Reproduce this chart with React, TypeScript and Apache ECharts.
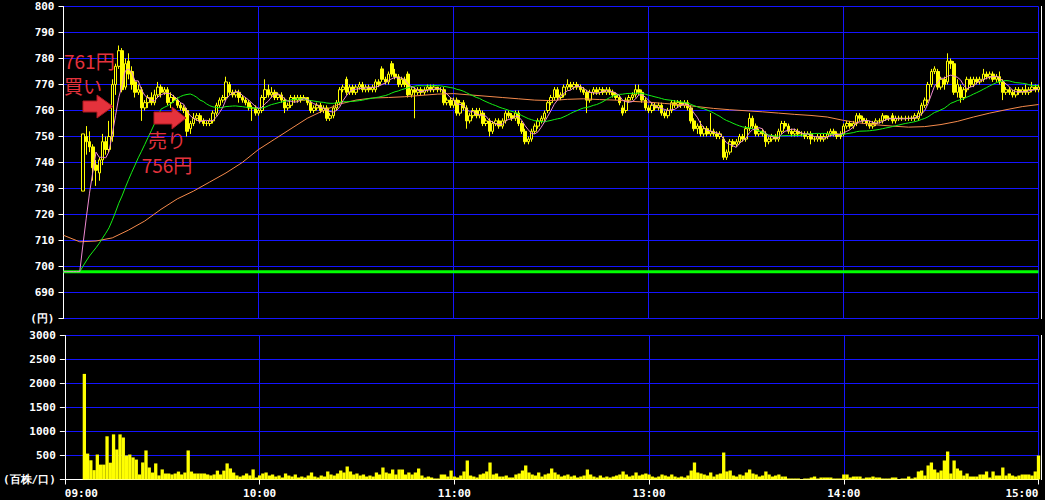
import React, { useEffect, useRef } from 'react';
import * as echarts from 'echarts';

// ---------- data ----------
const PREV_CLOSE = 698;
const tickMinutes = [0, 60, 120, 180, 240, 300];
const timeLabels = ['09:00', '10:00', '11:00', '13:00', '14:00', '15:00'];

// 1-minute candles [open, close, low, high]; index = minutes after 09:00 (lunch break removed)
const candles: (number[] | null)[] = [
  /*0*/ null, null, null, null, null, null, [729, 751, 729, 751], [750, 748, 743, 754], [748, 746, 744, 752], [746, 738, 733, 747],
  /*10*/ [739, 737, 731, 741], [736, 741, 733, 742], [741, 748, 739, 751], [748, 745, 743, 750], [745, 750, 744, 756], [750, 770, 748, 772], [770, 777, 766, 778], [777, 783, 776, 785], [783, 768, 767, 784], [769, 778, 768, 780],
  /*20*/ [779, 774, 772, 782], [775, 770, 768, 777], [771, 767, 765, 772], [767, 768, 766, 770], [768, 761, 756, 769], [761, 763, 760, 764], [763, 765, 761, 766], [765, 763, 762, 767], [763, 766, 762, 768], [766, 769, 765, 771],
  /*30*/ [769, 767, 765, 770], [767, 768, 766, 769], [768, 763, 762, 769], [763, 765, 761, 767], [765, 764, 763, 766], [764, 762, 761, 765], [762, 761, 760, 763], [761, 760, 759, 762], [760, 752, 750, 761], [753, 755, 751, 756],
  /*40*/ [755, 757, 754, 759], [757, 758, 756, 759], [758, 756, 755, 759], [756, 755, 754, 757], [755, 755, 754, 756], [755, 756, 754, 757], [756, 759, 755, 760], [759, 762, 758, 763], [762, 764, 761, 765], [764, 765, 763, 766],
  /*50*/ [765, 771, 764, 773], [770, 767, 766, 771], [767, 766, 765, 768], [766, 767, 765, 768], [767, 765, 763, 768], [765, 764, 763, 766], [764, 763, 762, 765], [763, 761, 760, 764], [761, 761, 756, 762], [761, 759, 758, 762],
  /*60*/ [759, 760, 758, 761], [760, 765, 759, 766], [765, 768, 764, 772], [768, 766, 765, 770], [766, 767, 765, 769], [767, 765, 764, 768], [765, 766, 764, 767], [766, 764, 763, 767], [764, 761, 759, 765], [761, 762, 760, 763],
  /*70*/ [762, 765, 761, 766], [765, 764, 763, 766], [764, 765, 763, 766], [765, 764, 763, 766], [764, 765, 764, 766], [765, 763, 762, 765], [763, 760, 759, 764], [760, 761, 759, 762], [761, 762, 760, 763], [762, 760, 759, 763],
  /*80*/ [760, 761, 759, 762], [761, 757, 756, 762], [757, 758, 756, 759], [758, 761, 757, 762], [761, 763, 760, 764], [763, 768, 762, 769], [768, 769, 767, 770], [772, 767, 766, 773], [767, 769, 766, 770], [769, 767, 766, 770],
  /*90*/ [767, 769, 766, 770], [769, 770, 768, 771], [770, 768, 767, 771], [768, 769, 767, 770], [769, 768, 767, 770], [768, 769, 767, 770], [768, 771, 767, 772], [771, 770, 769, 772], [776, 772, 771, 777], [772, 771, 770, 773],
  /*100*/ [771, 774, 770, 775], [778, 774, 773, 779], [774, 773, 772, 776], [773, 770, 769, 774], [770, 772, 769, 773], [772, 770, 769, 773], [774, 766, 765, 775], [766, 768, 765, 769], [768, 767, 757, 769], [767, 768, 766, 769],
  /*110*/ [768, 767, 766, 769], [767, 768, 766, 769], [768, 769, 767, 770], [769, 768, 767, 770], [768, 769, 767, 770], [769, 768, 767, 769], [768, 768, 767, 769], [768, 763, 762, 769], [763, 764, 762, 765], [764, 762, 761, 765],
  /*120*/ [762, 764, 761, 765], [764, 759, 758, 765], [759, 763, 758, 764], [763, 761, 760, 764], [761, 756, 753, 762], [756, 758, 755, 759], [758, 760, 757, 761], [760, 758, 757, 761], [758, 760, 757, 761], [759, 755, 754, 760],
  /*130*/ [755, 756, 754, 757], [756, 752, 750, 757], [752, 755, 751, 756], [755, 756, 754, 757], [756, 754, 753, 757], [754, 756, 753, 757], [756, 759, 755, 760], [759, 758, 757, 760], [758, 757, 756, 759], [757, 759, 756, 760],
  /*140*/ [759, 755, 754, 760], [755, 752, 751, 756], [752, 748, 747, 753], [748, 749, 747, 750], [749, 752, 748, 753], [752, 754, 751, 755], [754, 756, 753, 757], [756, 757, 755, 758], [757, 759, 756, 760], [760, 763, 759, 764],
  /*150*/ [763, 765, 762, 766], [765, 768, 764, 769], [768, 765, 764, 769], [765, 766, 764, 767], [766, 769, 765, 770], [769, 770, 768, 772], [770, 769, 768, 771], [769, 770, 768, 771], [770, 769, 768, 771], [769, 768, 767, 770],
  /*160*/ [768, 767, 766, 769], [767, 764, 759, 768], [764, 767, 763, 768], [767, 768, 766, 769], [768, 767, 766, 769], [767, 768, 766, 769], [768, 767, 766, 769], [767, 768, 766, 769], [768, 767, 766, 769], [767, 766, 765, 768],
  /*170*/ [766, 765, 764, 767], [765, 763, 762, 766], [761, 759, 758, 762], [760, 764, 759, 765], [764, 765, 763, 766], [765, 766, 764, 767], [766, 768, 765, 770], [768, 767, 766, 770], [767, 764, 763, 768], [764, 761, 760, 765],
  /*180*/ [761, 760, 759, 762], [760, 762, 759, 763], [762, 761, 760, 763], [761, 762, 760, 763], [762, 759, 758, 763], [759, 758, 757, 760], [758, 760, 757, 761], [760, 763, 759, 764], [763, 762, 761, 764], [762, 763, 761, 764],
  /*190*/ [763, 762, 761, 764], [762, 763, 761, 764], [763, 761, 760, 764], [761, 756, 755, 762], [756, 753, 752, 757], [753, 754, 751, 755], [754, 751, 750, 756], [751, 753, 750, 754], [753, 751, 750, 754], [751, 752, 750, 759],
  /*200*/ [752, 751, 750, 753], [751, 750, 749, 752], [750, 751, 749, 752], [749, 742, 741, 750], [742, 744, 741, 745], [744, 748, 743, 749], [748, 747, 746, 749], [747, 748, 746, 749], [748, 750, 747, 751], [750, 749, 748, 751],
  /*210*/ [749, 753, 748, 754], [753, 757, 752, 759], [757, 754, 753, 758], [754, 751, 750, 755], [751, 752, 750, 753], [752, 751, 750, 753], [751, 748, 746, 752], [748, 749, 747, 750], [749, 750, 748, 751], [750, 749, 748, 751],
  /*220*/ [749, 752, 748, 753], [752, 755, 751, 756], [755, 754, 753, 756], [754, 752, 751, 755], [752, 751, 750, 753], [751, 752, 750, 753], [752, 751, 750, 753], [751, 751, 750, 752], [751, 750, 749, 752], [750, 751, 749, 752],
  /*230*/ [751, 749, 747, 752], [749, 749, 748, 750], [749, 750, 748, 751], [750, 749, 748, 751], [749, 750, 748, 751], [750, 751, 749, 752], [751, 752, 750, 753], [752, 751, 750, 753], [751, 750, 749, 752], [751, 750, 749, 752],
  /*240*/ [751, 754, 750, 755], [754, 755, 753, 756], [755, 754, 753, 756], [754, 755, 753, 756], [755, 758, 754, 759], [758, 757, 756, 759], [757, 756, 755, 758], [756, 755, 754, 757], [755, 754, 753, 756], [754, 755, 753, 756],
  /*250*/ [755, 756, 754, 757], [756, 756, 755, 757], [756, 758, 755, 759], [758, 757, 756, 758], [757, 757, 756, 758], [758, 756, 755, 759], [756, 757, 755, 758], [757, 757, 756, 758], [757, 757, 756, 758], [757, 757, 756, 758],
  /*260*/ [757, 757, 756, 758], [757, 757, 756, 758], [757, 758, 756, 759], [757, 759, 756, 760], [759, 762, 758, 763], [762, 764, 761, 765], [764, 770, 763, 771], [770, 775, 769, 776], [775, 776, 774, 777], [775, 769, 768, 776],
  /*270*/ [769, 772, 768, 773], [772, 770, 768, 773], [771, 779, 770, 782], [779, 778, 776, 780], [778, 767, 766, 779], [767, 770, 765, 772], [769, 765, 763, 770], [765, 768, 764, 769], [768, 772, 767, 773], [772, 770, 769, 773],
  /*280*/ [770, 772, 769, 773], [772, 771, 770, 773], [771, 772, 770, 773], [772, 774, 771, 776], [774, 773, 772, 775], [773, 774, 772, 775], [774, 772, 771, 775], [772, 773, 771, 774], [773, 771, 770, 775], [771, 767, 764, 772],
  /*290*/ [767, 768, 766, 769], [768, 767, 766, 769], [767, 766, 765, 768], [766, 768, 765, 769], [768, 767, 766, 769], [767, 768, 766, 769], [768, 767, 766, 770], [767, 768, 766, 769], [768, 769, 767, 771], [769, 768, 767, 770],
  /*300*/ [768, 769, 767, 770],
];

// volume (百株) per minute, same indexing
const volumes: number[] = [
  /*0*/ 0, 0, 0, 0, 0, 0, 2200, 540, 400, 195,
  /*10*/ 520, 310, 310, 900, 350, 940, 625, 940, 875, 500,
  /*20*/ 520, 460, 415, 105, 355, 605, 250, 145, 335, 85,
  /*30*/ 210, 125, 125, 105, 125, 165, 105, 145, 605, 165,
  /*40*/ 125, 125, 125, 125, 105, 85, 105, 185, 105, 185,
  /*50*/ 335, 230, 145, 85, 60, 85, 125, 85, 210, 40,
  /*60*/ 85, 125, 146, 83, 104, 62, 83, 42, 125, 83,
  /*70*/ 62, 104, 42, 62, 42, 83, 146, 62, 42, 83,
  /*80*/ 62, 167, 104, 83, 125, 187, 146, 271, 167, 104,
  /*90*/ 125, 83, 104, 62, 83, 62, 146, 104, 250, 146,
  /*100*/ 125, 208, 104, 208, 208, 104, 146, 104, 146, 229,
  /*110*/ 83, 42, 62, 42, 21, 21, 104, 104, 62, 187,
  /*120*/ 62, 42, 83, 167, 396, 83, 62, 42, 104, 125,
  /*130*/ 167, 354, 104, 125, 62, 62, 83, 42, 42, 104,
  /*140*/ 125, 187, 292, 146, 104, 83, 146, 62, 104, 125,
  /*150*/ 229, 146, 104, 62, 83, 104, 62, 83, 42, 62,
  /*160*/ 83, 208, 104, 62, 42, 83, 42, 62, 42, 62,
  /*170*/ 83, 104, 167, 104, 62, 83, 146, 83, 104, 125,
  /*180*/ 104, 62, 42, 62, 104, 83, 62, 104, 62, 42,
  /*190*/ 62, 42, 83, 187, 354, 146, 125, 104, 83, 146,
  /*200*/ 62, 104, 125, 562, 167, 187, 83, 62, 104, 83,
  /*210*/ 146, 208, 125, 104, 62, 83, 167, 104, 62, 83,
  /*220*/ 104, 62, 62, 21, 21, 21, 21, 10, 21, 21,
  /*230*/ 42, 62, 21, 42, 42, 42, 42, 21, 21, 21,
  /*240*/ 104, 104, 42, 62, 62, 62, 21, 42, 42, 62,
  /*250*/ 42, 42, 21, 21, 21, 42, 42, 10, 21, 21,
  /*260*/ 62, 21, 42, 167, 187, 83, 292, 354, 208, 146,
  /*270*/ 187, 396, 583, 125, 396, 229, 187, 83, 125, 62,
  /*280*/ 62, 62, 104, 104, 167, 42, 167, 83, 83, 250,
  /*290*/ 83, 125, 83, 62, 83, 104, 104, 104, 83, 167,
  /*300*/ 500,
];

// long moving average (orange) read every 5 minutes
const MA_LONG_STEP = 5;
const maLong: number[] = [
  712, 709.5, 709.8, 711, 714, 717.5, 722, 726, 729, 732.5,
  736, 740, 745, 749, 753, 757, 760, 762.5, 764, 764.8,
  765, 765.3, 765.8, 766.3, 766.5, 766, 765.5, 765, 764.5, 764,
  763.8, 764.3, 764.5, 764.2, 764, 763.5, 763.2, 762.7, 762.2, 761.5,
  760.8, 760.3, 759.9, 759.5, 759, 758.5, 758.1, 757.5, 756.2, 755.2,
  754.5, 754, 753.6, 753.8, 754.6, 755.8, 757.5, 759, 760.3, 761.5,
  762.3,
];

// ---------- derived ----------
const closes = candles.map((c) => (c ? c[1] : PREV_CLOSE));
function sma(period: number) {
  return closes.map((_, t) => {
    let s = 0;
    for (let k = t - period + 1; k <= t; k++) s += k >= 0 ? closes[k] : PREV_CLOSE;
    return [t, +(s / period).toFixed(2)];
  });
}

const FONT = 'DejaVu Sans Mono';
const BLUE = '#1414ff';
const RED = '#e4323c';

const GRID_LEFT = 63.5;
const GRID_WIDTH = 975;

const xAxisBase = (grid: number, showLabels: boolean) => ({
  gridIndex: grid,
  type: 'value',
  min: 0,
  max: 300,
  interval: 60,
  axisLine: { show: showLabels, onZero: false, lineStyle: { color: '#fff', width: 1 } },
  axisTick: { show: showLabels, length: 5, lineStyle: { color: '#fff' } },
  axisLabel: {
    show: showLabels,
    color: '#fff',
    fontFamily: FONT,
    fontWeight: 'bold',
    fontSize: 11,
    margin: 8,
    alignMinLabel: 'left',
    alignMaxLabel: 'right',
    formatter: (v: number) => {
      const i = tickMinutes.indexOf(v);
      return i >= 0 ? timeLabels[i] : '';
    },
  },
  splitLine: {
    show: true,
    showMinLine: false,
    showMaxLine: true,
    lineStyle: { color: BLUE, width: 1 },
  },
});

const yLabel = {
  color: '#fff',
  fontFamily: FONT,
  fontWeight: 'bold',
  fontSize: 11,
  margin: 9,
};

const ANNOT_FONT = '19px "Noto Sans CJK JP"';

function buildOption() {
  return {
    animation: false,
    backgroundColor: '#000',
    grid: [
      { left: GRID_LEFT, top: 6.5, width: GRID_WIDTH, height: 312 },
      { left: GRID_LEFT, top: 335.5, width: GRID_WIDTH, height: 144 },
    ],
    xAxis: [xAxisBase(0, false), xAxisBase(1, true)],
    yAxis: [
      {
        gridIndex: 0,
        type: 'value',
        min: 680,
        max: 800,
        interval: 10,
        axisLine: { show: true, lineStyle: { color: '#fff' } },
        axisTick: { show: true, length: 5, lineStyle: { color: '#fff' } },
        axisLabel: { ...yLabel, formatter: (v: number) => (v === 680 ? '(円)' : String(v)) },
        splitLine: { show: true, lineStyle: { color: BLUE, width: 1 } },
      },
      {
        gridIndex: 1,
        type: 'value',
        min: 0,
        max: 3000,
        interval: 500,
        axisLine: { show: true, lineStyle: { color: '#fff' } },
        axisTick: { show: true, length: 5, lineStyle: { color: '#fff' } },
        axisLabel: { ...yLabel, formatter: (v: number) => (v === 0 ? '(百株/口)' : String(v)) },
        splitLine: { show: true, showMinLine: false, lineStyle: { color: BLUE, width: 1 } },
      },
    ],
    series: [
      {
        type: 'line',
        xAxisIndex: 0,
        yAxisIndex: 0,
        data: [[0, PREV_CLOSE], [300, PREV_CLOSE]],
        symbol: 'none',
        lineStyle: { color: '#00ff00', width: 3 },
        silent: true,
      },
      {
        type: 'candlestick',
        xAxisIndex: 0,
        yAxisIndex: 0,
        data: candles
          .map((c, t) => (c ? [t, c[0], c[1], c[2], c[3]] : null))
          .filter((d) => d !== null),
        encode: { x: 0, y: [1, 2, 3, 4] },
        barWidth: 3,
        clip: false,
        itemStyle: {
          color: '#000',
          color0: '#ffff00',
          borderColor: '#ffff00',
          borderColor0: '#ffff00',
          borderWidth: 1,
        },
        silent: true,
      },
      {
        type: 'line',
        xAxisIndex: 0,
        yAxisIndex: 0,
        data: maLong.map((v, i) => [i * MA_LONG_STEP, v]),
        symbol: 'none',
        lineStyle: { color: '#f58a4c', width: 1 },
        silent: true,
      },
      {
        type: 'line',
        xAxisIndex: 0,
        yAxisIndex: 0,
        data: sma(25),
        symbol: 'none',
        lineStyle: { color: '#14f014', width: 1 },
        silent: true,
      },
      {
        type: 'line',
        xAxisIndex: 0,
        yAxisIndex: 0,
        data: sma(5),
        symbol: 'none',
        lineStyle: { color: '#f08ad2', width: 1 },
        silent: true,
      },
      {
        type: 'bar',
        xAxisIndex: 1,
        yAxisIndex: 1,
        data: volumes.map((v, t) => [t, v]),
        barWidth: 3.3,
        clip: false,
        itemStyle: { color: '#ffff00' },
        silent: true,
      },
    ],
    graphic: [
      { type: 'line', silent: true, shape: { x1: 1041.5, y1: 6, x2: 1041.5, y2: 319 }, style: { stroke: '#fff', lineWidth: 1 } },
      { type: 'line', silent: true, shape: { x1: 1041.5, y1: 335, x2: 1041.5, y2: 480 }, style: { stroke: '#fff', lineWidth: 1 } },
      {
        type: 'polygon', silent: true, z: 100,
        shape: { points: [[83, 101], [97, 101], [97, 95], [113, 106.5], [97, 118], [97, 112], [83, 112]] },
        style: { fill: RED, stroke: '#b01820', lineWidth: 1 },
      },
      {
        type: 'polygon', silent: true, z: 100,
        shape: { points: [[154, 112], [172, 112], [172, 107], [186, 118], [172, 129], [172, 124], [154, 124]] },
        style: { fill: RED, stroke: '#b01820', lineWidth: 1 },
      },
      {
        type: 'text', silent: true, z: 100, x: 64, y: 48,
        style: { text: '761円\n買い', fill: RED, font: ANNOT_FONT, lineHeight: 25 },
      },
      {
        type: 'text', silent: true, z: 100, x: 167, y: 127,
        style: { text: '売り\n756円', fill: RED, font: ANNOT_FONT, lineHeight: 25, align: 'center' },
      },
    ],
  };
}

export default function App() {
  const ref = useRef<HTMLDivElement>(null);
  useEffect(() => {
    if (!ref.current) return;
    const chart = echarts.init(ref.current, null, { renderer: 'svg' });
    chart.setOption(buildOption() as any);
    return () => chart.dispose();
  }, []);
  return (
    <div
      ref={ref}
      style={{ position: 'fixed', left: 0, top: 0, width: 1045, height: 500, background: '#000' }}
    />
  );
}
